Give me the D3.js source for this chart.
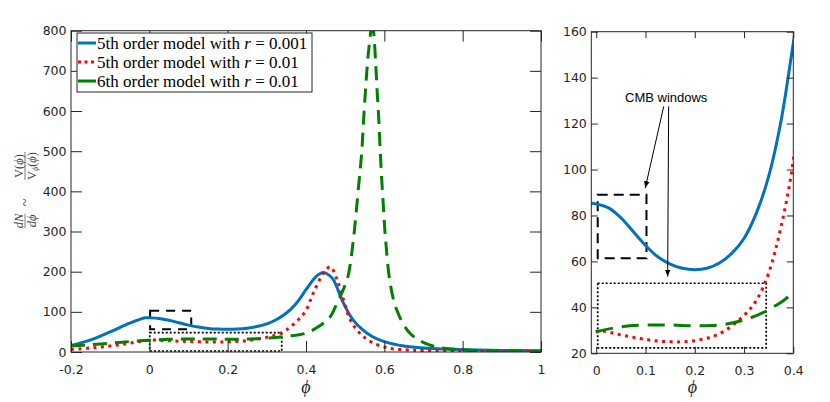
<!DOCTYPE html>
<html><head><meta charset="utf-8">
<script src="https://cdn.jsdelivr.net/npm/d3@7"></script>
<style>body{margin:0;background:#fff}</style>
</head><body>
<svg id="c" width="830" height="402"></svg>
<script>
// ---- data ----
const phiBlue = [-0.2,-0.15,-0.1,-0.05,-0.01,0,0.025,0.05,0.075,0.1,0.125,0.15,0.175,0.2,0.225,0.25,0.275,0.3,0.325,0.35,0.375,0.4,0.42,0.432,0.445,0.458,0.47,0.495,0.52,0.545,0.57,0.6,0.65,0.7,0.8,0.9,1.0];
const nBlue   = [16,30,50,72,85.2,85,83.3,79,73,67,62,58.8,57,56.4,57,59.3,63.5,70,81,97,121,155,182,193,198,192,180,123,80,55,38,26,15,10,6,4,3];
const phiRed  = [-0.2,-0.15,-0.1,-0.05,0,0.05,0.1,0.15,0.2,0.25,0.3,0.325,0.35,0.375,0.4,0.42,0.445,0.462,0.48,0.496,0.513,0.538,0.572,0.615,0.66,0.7,0.8,0.9,1.0];
const nRed    = [6,10,15,22,29.5,28,26,25,25.5,28.5,36.5,43,55,75,104,150,197,212,178,129,80,46,22,9,5,3.5,2,1.5,1];
const phiGreen= [-0.2,-0.15,-0.1,-0.05,0,0.05,0.1,0.15,0.2,0.25,0.3,0.35,0.4,0.436,0.46,0.479,0.495,0.508,0.521,0.534,0.542,0.547,0.553,0.559,0.565,0.569,0.573,0.578,0.582,0.586,0.589,0.593,0.598,0.602,0.615,0.632,0.666,0.717,0.8,0.9,1.0];
const nGreen  = [15,18,22,26,29.4,31.5,32.3,32.3,32,32.3,34.5,39,47,66,85,121,155,192,280,410,494,576,668,742,795,830,795,717,643,576,510,436,355,295,171,104,46,17,5,2.5,2];
const seriesNames = ["5th order model with ", "5th order model with ", "6th order model with "];
const seriesR = ["0.001","0.01","0.01"];
const leftXTicks = [-0.2,0,0.2,0.4,0.6,0.8,1];
const leftYTicks = [0,100,200,300,400,500,600,700,800];
const rightXTicks = [0,0.1,0.2,0.3,0.4];
const rightYTicks = [20,40,60,80,100,120,140,160];
// CMB windows [phiMin, phiMax, nMin, nMax]
const cmbDashLeft  = [0.002,0.107,56.5,103];
const cmbDotLeft   = [0.001,0.338,2.5,48];
const cmbDashRight = [0.003,0.102,61.4,89];
const cmbDotRight  = [0.003,0.345,22.4,50.5];
const cmbLabel = "CMB windows";
const cmbLabelPos = [0.142,129.5];
const cmbArrows = [[0.137,127.5,0.0995,91.9],[0.147,127.5,0.145,53.4]];

const PHI = '\u03D5';
const svg = d3.select('#c');
const AX = '#262626';
const defs = svg.append('defs');
defs.append('marker').attr('id','ah').attr('viewBox','0 0 10 10').attr('refX',10).attr('refY',5)
  .attr('markerWidth',7).attr('markerHeight',7).attr('orient','auto-start-reverse').attr('markerUnits','userSpaceOnUse')
  .append('path').attr('d','M0,1 L10,5 L0,9 Z').attr('fill','#000');

const series = [
  {x:phiBlue,y:nBlue,color:'#0072BD',dashL:null,dashR:null},
  {x:phiRed,y:nRed,color:'#FF0000',dashL:'3,4.5',dashR:'3,4.5'},
  {x:phiGreen,y:nGreen,color:'#008000',dashL:'14,8',dashR:'17,9'}
];

function panel(o){
  const g = svg.append('g');
  const x = d3.scaleLinear().domain(o.xd).range([o.l,o.r]);
  const y = d3.scaleLinear().domain(o.yd).range([o.b,o.t]);
  const cid = 'clip'+o.id;
  defs.append('clipPath').attr('id',cid).append('rect')
    .attr('x',o.l).attr('y',o.t).attr('width',o.r-o.l).attr('height',o.b-o.t);
  g.append('rect').attr('x',o.l).attr('y',o.t).attr('width',o.r-o.l).attr('height',o.b-o.t).attr('fill','#fff');
  const cg = g.append('g').attr('clip-path',`url(#${cid})`);
  const line = d3.line().curve(d3.curveCatmullRom.alpha(0.5));
  function box(b,dash,w){
    cg.append('rect').attr('x',x(b[0])).attr('y',y(b[3])).attr('width',x(b[1])-x(b[0])).attr('height',y(b[2])-y(b[3]))
      .attr('fill','none').attr('stroke','#000').attr('stroke-width',w).attr('stroke-dasharray',dash);
  }
  box(o.dash,o.dashStyle,2);
  box(o.dot,'2,2',1.7);
  series.forEach(s=>{
    const pts = s.x.map((v,i)=>[x(v),y(s.y[i])]);
    cg.append('path').attr('d',line(pts)).attr('fill','none').attr('stroke',s.color)
      .attr('stroke-width',3).attr('stroke-dasharray',o.id==='L'?s.dashL:s.dashR);
  });
  const fmt = d=>String(+d.toFixed(2));
  const font = '"DejaVu Sans", sans-serif';
  const ax = [
    d3.axisBottom(x).tickValues(o.xt).tickSizeInner(-o.ts).tickSizeOuter(0).tickPadding(13).tickFormat(fmt),
    d3.axisTop(x).tickValues(o.xt).tickSizeInner(-o.ts).tickSizeOuter(0).tickFormat(''),
    d3.axisLeft(y).tickValues(o.yt).tickSizeInner(-o.ts).tickSizeOuter(0).tickPadding(4.5).tickFormat(fmt),
    d3.axisRight(y).tickValues(o.yt).tickSizeInner(-o.ts).tickSizeOuter(0).tickFormat('')
  ];
  const tr = [`translate(0,${o.b})`,`translate(0,${o.t})`,`translate(${o.l},0)`,`translate(${o.r},0)`];
  ax.forEach((a,i)=>{
    const ag = g.append('g').attr('transform',tr[i]).call(a);
    ag.select('.domain').remove();
    ag.selectAll('line').attr('stroke',AX).attr('stroke-width',1);
    ag.selectAll('text').attr('fill',AX).style('font-family',font).style('font-size','12.5px');
  });
  g.append('rect').attr('x',o.l).attr('y',o.t).attr('width',o.r-o.l).attr('height',o.b-o.t)
    .attr('fill','none').attr('stroke',AX).attr('stroke-width',1);
  g.append('text').attr('x',(o.l+o.r)/2).attr('y',393).attr('text-anchor','middle')
    .style('font-family','"Liberation Serif", serif').style('font-style','italic').style('font-size','18px')
    .attr('fill',AX).text(PHI);
  return {g,x,y};
}

const L = panel({id:'L',l:71,r:541,t:30.7,b:352,xd:[-0.2,1],yd:[0,800],xt:leftXTicks,yt:leftYTicks,ts:11,
  dash:cmbDashLeft,dashStyle:'9,7',dot:cmbDotLeft});
const R = panel({id:'R',l:591.3,r:793.3,t:31.7,b:353.3,xd:[-0.01,0.4],yd:[20,160],xt:rightXTicks,yt:rightYTicks,ts:6.5,
  dash:cmbDashRight,dashStyle:'10,6',dot:cmbDotRight});

R.g.append('text').attr('x',R.x(cmbLabelPos[0])).attr('y',R.y(cmbLabelPos[1])).attr('text-anchor','middle')
  .style('font-family','"Liberation Sans", Arial, sans-serif').style('font-size','13px').attr('fill','#000').text(cmbLabel);
cmbArrows.forEach(a=>{
  R.g.append('line').attr('x1',R.x(a[0])).attr('y1',R.y(a[1])).attr('x2',R.x(a[2])).attr('y2',R.y(a[3]))
    .attr('stroke','#000').attr('stroke-width',1).attr('marker-end','url(#ah)');
});

// legend
const lg = svg.append('g');
lg.append('rect').attr('x',77).attr('y',33).attr('width',235).attr('height',59).attr('fill','#fff').attr('stroke',AX).attr('stroke-width',1);
series.forEach((s,i)=>{
  const cy = 43 + i*19;
  lg.append('line').attr('x1',78).attr('x2',96).attr('y1',cy).attr('y2',cy).attr('stroke',s.color).attr('stroke-width',3)
    .attr('stroke-dasharray',i===1?'3,3.5':null);
  const t = lg.append('text').attr('x',97).attr('y',cy+5.5).style('font-family','"Liberation Serif", serif').style('font-size','17px').attr('fill','#000');
  t.append('tspan').text(seriesNames[i]);
  t.append('tspan').style('font-style','italic').text('r');
  t.append('tspan').text(' = '+seriesR[i]);
});

// y label (rotated fractions)
const yl = svg.append('g').attr('transform','translate(25,191) rotate(-90)')
  .style('font-family','"Liberation Serif", serif').style('font-size','12.5px').attr('fill','#444');
function frac(cx,num,den){
  const n = yl.append('text').attr('x',cx).attr('y',-2.5).attr('text-anchor','middle');
  num(n);
  const d = yl.append('text').attr('x',cx).attr('y',10.5).attr('text-anchor','middle');
  den(d);
  const w = Math.max(n.node().getComputedTextLength(), d.node().getComputedTextLength());
  yl.append('line').attr('x1',cx-w/2).attr('x2',cx+w/2).attr('y1',0).attr('y2',0).attr('stroke','#444').attr('stroke-width',0.7);
}
frac(-30, t=>{t.append('tspan').style('font-style','italic').text('dN');}, t=>{t.append('tspan').style('font-style','italic').text('d'+PHI);});
yl.append('text').attr('x',-11.5).attr('y',5).attr('text-anchor','middle').style('font-size','15px').text('~');
frac(25, t=>{t.append('tspan').text('V(');t.append('tspan').style('font-style','italic').text(PHI);t.append('tspan').text(')');},
  t=>{t.append('tspan').text('V');t.append('tspan').style('font-style','italic').style('font-size','8px').attr('dy',2).text(PHI);
      t.append('tspan').attr('dy',-2).text('(');t.append('tspan').style('font-style','italic').text(PHI);t.append('tspan').text(')');});
</script>
</body></html>
